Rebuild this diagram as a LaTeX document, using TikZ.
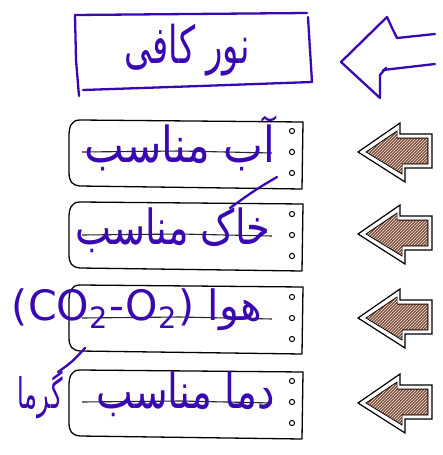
\documentclass[tikz,border=0pt]{standalone}
\usepackage{fontspec}
\usetikzlibrary{patterns}
\TeXXeTstate=1
\newfontfamily\arabicfont[Script=Arabic]{DejaVu Sans}
\newfontfamily\latinsans{DejaVu Sans}
\definecolor{ink}{RGB}{58,8,178}
\definecolor{wood}{RGB}{128,78,56}
\tikzset{
  scroll/.style={draw=black, line width=1.3pt, fill=white, line join=round},
  hole/.style={draw=black, line width=1pt},
  rulestroke/.style={draw=black!85, line width=1.1pt},
  pen/.style={draw=ink, line width=2.3pt, line cap=round, line join=round},
  inklabel/.style={text=ink, inner sep=0pt},
  arrowout/.style={draw=black, line width=1.2pt, fill=white, line join=miter},
  arrowin/.style={draw=black, line width=0.7pt, fill=wood},
}
\begin{document}
\begin{tikzpicture}[x=1pt,y=-1pt]
\useasboundingbox (0,0) rectangle (442,455);
% top box
\draw[pen] (75,15) -- (190,14) -- (307,13);
\draw[pen] (308,17) -- (310,50) -- (312,82);
\draw[pen] (312,82) -- (200,86) -- (83,90);
\draw[pen] (75,15) -- (76,60) -- (79,96);
\node[inklabel] (light) at (187,50) {\resizebox*{125pt}{52pt}{\arabicfont\beginR نور کافی\endR}};
% top hollow arrow
\draw[pen] (435,34) -- (397,38) .. controls (393,30) .. (387,17) -- (341,62)
  -- (380,98) -- (380,75) -- (386,68);
\draw[pen] (383,70) -- (435,64);
% scroll boxes
\foreach \t/\l in {120/152, 202/235, 285/318, 370/402}{
  \pgfmathsetmacro\b{\t+66}
  \draw[scroll] (303,\t+2) -- (80,\t) .. controls (71,\t) and (69,\t+7) .. (69,\t+16)
     -- (69,\b-14) .. controls (69,\b-4) and (72,\b-1) .. (80,\b) -- (302,\b+3) -- cycle;
  \draw[rulestroke] (82,\l) -- (180,\l-1) -- (272,\l+1);
  \foreach \d in {-21,0,21}{\draw[hole] (292,\l+\d) circle (2.6);}
}
% brown arrows
\foreach \c in {152, 234, 318, 403}{
  \draw[arrowout] (358,\c) -- (400,\c-29) -- (400,\c-18) -- (432,\c-18) -- (432,\c+16)
     -- (405,\c+16) -- (405,\c+30) -- cycle;
  \draw[arrowin] (366,\c) -- (397,\c-21) -- (397,\c-14) -- (428,\c-14) -- (428,\c+12)
     -- (402,\c+12) -- (402,\c+22) -- cycle;
  \fill[pattern=north east lines, pattern color=white!90!wood] (367,\c) -- (397,\c-20) -- (397,\c-13) -- (427,\c-13) -- (427,\c+11)
     -- (402,\c+11) -- (402,\c+21) -- cycle;
}
% labels
\node[inklabel] (water) at (180,143) {\resizebox*{190pt}{55pt}{\arabicfont\beginR آب مناسب\endR}};
\node[inklabel] (soil) at (173,230) {\resizebox*{195pt}{45pt}{\arabicfont\beginR خاک مناسب\endR}};
\node[inklabel] (air) at (137,310) {\resizebox*{250pt}{42pt}{\latinsans (CO\textsubscript{2}-O\textsubscript{2}) \arabicfont\beginR هوا\endR}};
\node[inklabel] (temp) at (186,394) {\resizebox*{178pt}{45pt}{\arabicfont\beginR دما مناسب\endR}};
\node[inklabel] (heat) at (40,395) {\resizebox*{45pt}{48pt}{\arabicfont\beginR گرما\endR}};
% extra pen strokes
\draw[pen] (277,177) .. controls (255,190) .. (230,208);
\draw[pen] (58,372) .. controls (72,362) .. (85,348);
\end{tikzpicture}
\end{document}
